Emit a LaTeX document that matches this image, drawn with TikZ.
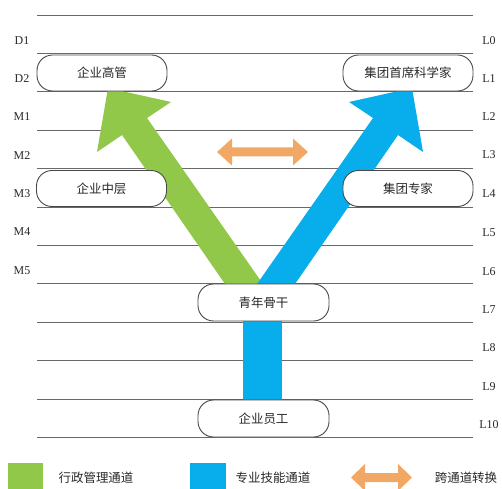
\documentclass[tikz,border=0pt]{standalone}
\usepackage{fontspec}
\setmainfont{Liberation Serif}
\newfontfamily\cjk{Noto Sans CJK SC}
\definecolor{gline}{RGB}{105,105,105}
\definecolor{agreen}{RGB}{146,200,74}
\definecolor{ablue}{RGB}{8,174,236}
\definecolor{aorange}{RGB}{241,168,100}
\definecolor{tdark}{RGB}{40,40,40}
\tikzset{
  levelline/.style={draw=gline, line width=0.9bp},
  lvl/.style={font=\fontsize{12}{14}\selectfont, text=tdark, inner sep=0pt},
  posbox/.style={draw=tdark!85, line width=0.9bp, fill=white, rounded corners=15.5bp,
     minimum width=130bp, minimum height=36bp, inner sep=0pt,
     font=\cjk\fontsize{12.5}{14}\selectfont, text=tdark},
  legtext/.style={font=\cjk\fontsize{12.5}{14}\selectfont, text=tdark, inner sep=0pt},
}
\begin{document}
\begin{tikzpicture}[x=1bp,y=-1bp]
\useasboundingbox (0,0) rectangle (502,489);
% level lines
\foreach \yy in {15,53.4,91.8,130.2,168.6,207,245.4,283.8,322.2,360.6,399,437.4}
  \draw[levelline] (37,\yy) -- (473,\yy);
% left labels
\foreach \t/\yy in {D1/41,D2/79,M1/117,M2/156,M3/194,M4/232,M5/271}
  \node[lvl] (left\t) at (22,\yy) {\t};
% right labels
\foreach \t/\yy in {L0/41,L1/79,L2/117,L3/155,L4/194,L5/233,L6/272,L7/310,L8/348,L9/387,L10/425}
  \node[lvl] (right\t) at (489,\yy) {\t};
% green arrow
\fill[agreen] (225,284) -- (263,284) -- (147,118) -- (171,102) -- (108,88) -- (97,152) -- (122,135) -- cycle;
% blue arrow
\fill[ablue] (295,284) -- (257,284) -- (373,118) -- (349,102) -- (412,88) -- (423,152) -- (398,135) -- cycle;
\fill[ablue] (243,318) rectangle (282,404);
% orange double arrow
\fill[aorange] (217,152) -- (232,138.5) -- (232,147.5) -- (293,147.5) -- (293,138.5) -- (308,152)
  -- (293,165.5) -- (293,156.5) -- (232,156.5) -- (232,165.5) -- cycle;
% boxes
\node[posbox] (gaoguan) at (102,73) {企业高管};
\node[posbox] (zhongceng) at (101.5,188.5) {企业中层};
\node[posbox] (kexuejia) at (408,73) {集团首席科学家};
\node[posbox] (zhuanjia) at (408,188.5) {集团专家};
\node[posbox, minimum height=37bp, minimum width=131bp] (gugan) at (263.5,302.5) {青年骨干};
\node[posbox, minimum height=37bp, minimum width=131bp] (yuangong) at (263.5,418.5) {企业员工};
% legend
\fill[agreen] (8,463) rectangle (43,489);
\node[legtext] (leg1) at (96,478) {行政管理通道};
\fill[ablue] (190,463) rectangle (226,489);
\node[legtext] (leg2) at (273,478) {专业技能通道};
\fill[aorange] (351,477.5) -- (365,464) -- (365,473) -- (398,473) -- (398,464) -- (412,477.5)
  -- (398,491) -- (398,482) -- (365,482) -- (365,491) -- cycle;
\node[legtext] (leg3) at (466,478) {跨通道转换};
\end{tikzpicture}
\end{document}
